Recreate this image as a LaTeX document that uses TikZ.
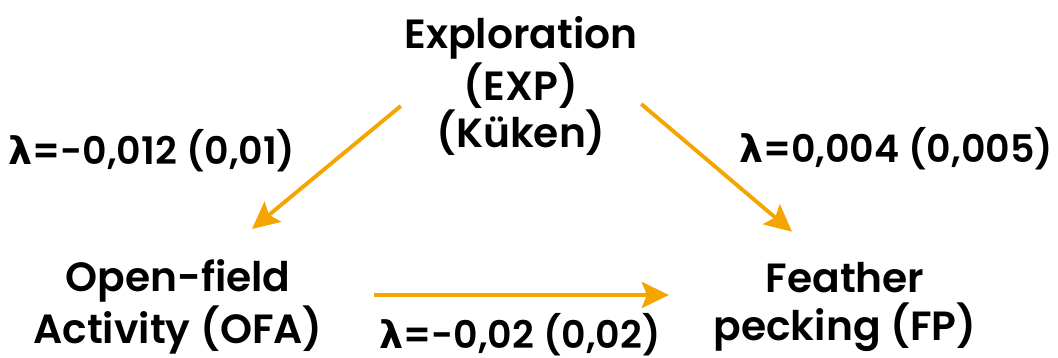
\documentclass[tikz,border=0pt]{standalone}
\usepackage{fontspec}
\setmainfont{Poppins}[UprightFont=* SemiBold]
\newfontfamily\greekfont{DejaVu Sans}
\usepackage{tikz}
\usetikzlibrary{positioning, arrows.meta}
\definecolor{arrorange}{HTML}{F5A500}
\newcommand{\lam}{{\greekfont\bfseries λ}}

\begin{document}
\begin{tikzpicture}[
		    x=0.01cm, y=-0.01cm,
		    every node/.style={align=center, inner sep=0pt, font=\fontsize{11.6}{13.6}\selectfont},
		    lbl/.style={font=\fontsize{10.8}{13}\selectfont},
		    arr/.style={draw=arrorange, line width=1.1pt, -{Stealth[length=0.27cm, width=0.26cm, inset=0.05cm]}}
		]
		    \useasboundingbox (0,0) rectangle (1058,358);

		    \node (exp) at (521,86) {Exploration\\(EXP)\\(Küken)};
		    \node (ofa) at (178,307) {Open-field\\Activity (OFA)};
		    \node (fp) at (845,307) {Feather\\pecking (FP)};

		    \node[lbl] (lamexp) at (152,151) {\lam=-0,012 (0,01)};
		    \node[lbl] (lamfp) at (896,149) {\lam=0,004 (0,005)};
		    \node[lbl] (lamofa) at (520,335) {\lam=-0,02 (0,02)};

		    \draw[arr] ([shift={(-3,20)}]exp.west) -- ([shift={(74,-30)}]ofa.north);
		    \draw[arr] ([shift={(3,18)}]exp.east) -- ([shift={(-53,-30)}]fp.north);
		    \draw[arr] ([shift={(51,-12)}]ofa.east) -- ([shift={(-44,-12)}]fp.west);
		\end{tikzpicture}
\end{document}
